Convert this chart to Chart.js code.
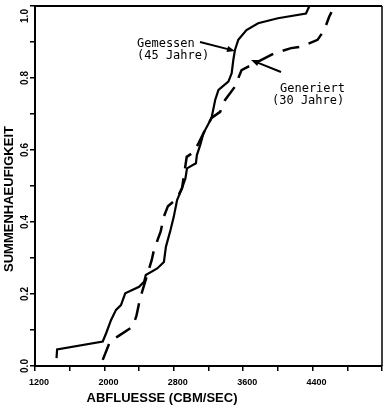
<!DOCTYPE html>
<html>
<head>
<meta charset="utf-8">
<script src="https://cdn.jsdelivr.net/npm/chart.js@4.4.1/dist/chart.umd.min.js"></script>
<style>
  html, body { margin: 0; padding: 0; background: #fff; }
  #wrap { width: 388px; height: 408px; position: relative; }
</style>
</head>
<body>
<div id="wrap"><canvas id="c" width="388" height="408"></canvas></div>
<script>
// Measured discharges (45 years): flow in m3/s and cumulative frequency
const gemessenQ = [1448, 1455, 1981, 2020, 2077, 2134, 2191, 2240, 2400, 2457, 2477, 2609, 2686, 2709, 2762, 2800, 2838, 2895, 2934, 2952, 3055, 3066, 3105, 3143, 3235, 3277, 3315, 3429, 3467, 3486, 3505, 3543, 3638, 3772, 4000, 4324, 4363];
const gemessenP = [0.022, 0.046, 0.068, 0.091, 0.128, 0.156, 0.169, 0.202, 0.220, 0.234, 0.253, 0.271, 0.289, 0.331, 0.378, 0.415, 0.461, 0.494, 0.521, 0.549, 0.563, 0.586, 0.614, 0.647, 0.689, 0.739, 0.767, 0.790, 0.813, 0.850, 0.878, 0.906, 0.933, 0.952, 0.966, 0.979, 1.000];

// Generated discharges (30 years)
const generiertQ = [1981, 2065, 2160, 2324, 2369, 2412, 2545, 2571, 2648, 2686, 2732, 2834, 2895, 2949, 3029, 3086, 3143, 3235, 3334, 3391, 3505, 3581, 3962, 4152, 4267, 4457, 4534, 4591, 4618];
const generiertP = [0.017, 0.068, 0.083, 0.109, 0.139, 0.188, 0.294, 0.322, 0.373, 0.415, 0.444, 0.464, 0.494, 0.581, 0.594, 0.619, 0.647, 0.689, 0.706, 0.739, 0.776, 0.822, 0.869, 0.883, 0.887, 0.906, 0.933, 0.970, 0.983];

// Axis ticks
const xTickValues = [1200, 2000, 2800, 3600, 4400];
const yTickValues = [0, 0.2, 0.4, 0.6, 0.8, 1.0];
const yTickLabels = ['0.0', '0.2', '0.4', '0.6', '0.8', '1.0'];

const toPoints = (xs, ys) => xs.map((x, i) => ({ x: x, y: ys[i] }));

const INK = '#000';
const sansBold = (size) => 'bold ' + size + 'px "Liberation Sans", Arial, sans-serif';
const mono = '12px "DejaVu Sans Mono", "Liberation Mono", monospace';

function arrow(ctx, x1, y1, x2, y2) {
  const a = Math.atan2(y2 - y1, x2 - x1);
  const len = 8, w = 3.2;
  ctx.beginPath();
  ctx.moveTo(x1, y1);
  ctx.lineTo(x2 - Math.cos(a) * len * 0.8, y2 - Math.sin(a) * len * 0.8);
  ctx.lineWidth = 2;
  ctx.stroke();
  ctx.beginPath();
  ctx.moveTo(x2, y2);
  ctx.lineTo(x2 - Math.cos(a) * len - Math.sin(a) * w, y2 - Math.sin(a) * len + Math.cos(a) * w);
  ctx.lineTo(x2 - Math.cos(a) * len + Math.sin(a) * w, y2 - Math.sin(a) * len - Math.cos(a) * w);
  ctx.closePath();
  ctx.fill();
}

// Frame, rotated y labels, axis titles and curve annotations
const decorations = {
  id: 'decorations',
  afterDraw(chart) {
    const ctx = chart.ctx;
    const area = chart.chartArea;
    const ys = chart.scales.y;
    ctx.save();
    ctx.strokeStyle = INK;
    ctx.fillStyle = INK;

    // top and right frame lines
    ctx.lineWidth = 2;
    ctx.beginPath();
    ctx.moveTo(area.left, area.top);
    ctx.lineTo(area.right, area.top);
    ctx.stroke();
    ctx.lineWidth = 1.5;
    ctx.beginPath();
    ctx.moveTo(area.right, area.top);
    ctx.lineTo(area.right, area.bottom);
    ctx.stroke();

    // y tick labels, reading upwards
    ctx.font = sansBold(10);
    ctx.textAlign = 'center';
    ctx.textBaseline = 'middle';
    yTickValues.forEach((v, i) => {
      const py = Math.max(ys.getPixelForValue(v), area.top + 10);
      ctx.save();
      ctx.translate(25, py);
      ctx.rotate(-Math.PI / 2);
      ctx.fillText(yTickLabels[i], 0, 0);
      ctx.restore();
    });

    // axis titles
    ctx.font = sansBold(13);
    ctx.save();
    ctx.translate(9, 199);
    ctx.rotate(-Math.PI / 2);
    ctx.fillText('SUMMENHAEUFIGKEIT', 0, 0);
    ctx.restore();
    ctx.fillText('ABFLUESSE (CBM/SEC)', 162, 398);

    // curve labels
    ctx.font = mono;
    ctx.textAlign = 'left';
    ctx.textBaseline = 'alphabetic';
    ctx.fillText('Gemessen', 137, 47);
    ctx.fillText('(45 Jahre)', 137, 59);
    ctx.fillText('Generiert', 280, 92);
    ctx.fillText('(30 Jahre)', 272, 104);
    arrow(ctx, 200, 42, 235, 51);
    arrow(ctx, 281, 72, 251, 60);
    ctx.restore();
  }
};

new Chart(document.getElementById('c'), {
  type: 'line',
  data: {
    datasets: [
      {
        label: 'Gemessen (45 Jahre)',
        data: toPoints(gemessenQ, gemessenP),
        borderColor: INK,
        borderWidth: 2.2,
        pointRadius: 0,
        tension: 0,
        fill: false
      },
      {
        label: 'Generiert (30 Jahre)',
        data: toPoints(generiertQ, generiertP),
        borderColor: INK,
        borderWidth: 2.5,
        borderDash: [17, 10],
        pointRadius: 0,
        tension: 0,
        fill: false
      }
    ]
  },
  options: {
    responsive: false,
    animation: false,
    events: [],
    layout: { padding: { top: 6, right: 3, left: 0, bottom: 0 } },
    plugins: { legend: { display: false }, tooltip: { enabled: false } },
    scales: {
      x: {
        type: 'linear',
        min: 1200,
        max: 5200,
        afterFit: (s) => { s.height = 42; },
        ticks: {
          stepSize: 400,
          autoSkip: false,
          maxRotation: 0,
          minRotation: 0,
          padding: 6,
          labelOffset: 4,
          color: INK,
          font: { family: '"Liberation Sans", Arial, sans-serif', weight: 'bold', size: 9 },
          callback: (v) => xTickValues.includes(v) ? String(v) : ''
        },
        grid: { drawOnChartArea: false, drawTicks: true, tickLength: 5, color: INK, lineWidth: 1.5 },
        border: { display: true, color: INK, width: 2 }
      },
      y: {
        min: 0,
        max: 1,
        afterFit: (s) => { s.width = 35; },
        ticks: { stepSize: 0.1, display: false },
        grid: { drawOnChartArea: false, drawTicks: true, tickLength: 5, color: INK, lineWidth: 1.5 },
        border: { display: true, color: INK, width: 2 }
      }
    }
  },
  plugins: [decorations]
});
</script>
</body>
</html>
